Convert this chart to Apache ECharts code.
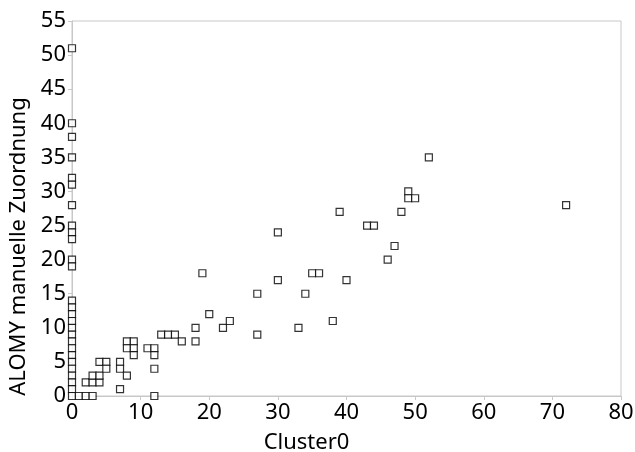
<!DOCTYPE html>
<html>
<head>
    <meta charset="utf-8" />
    <script src="https://cdn.jsdelivr.net/npm/echarts@6/dist/echarts.min.js"></script>
</head>
<body style="margin:0;">
    <div id="main" style="width: 635px;height:452px;"></div>
    <script type="text/javascript">
        // Cluster0 vs. manual assignment
        const clusterX = [
            0, 0, 0, 0, 0, 0, 0, 0, 0, 0, 0, 0,
            0, 0, 0, 0, 0, 0, 0, 0, 0, 0, 0, 0, 0, 0, 0,
            1, 2, 3, 12,
            2, 3, 3, 4, 4, 4, 5, 5, 7, 7, 7, 8,
            8, 9, 8, 9, 9, 11, 12, 12, 12,
            13, 14, 15, 16, 18, 18, 19, 20, 22, 23,
            27, 27, 30, 30, 33, 34, 35, 36, 38, 39, 40,
            43, 44, 46, 47, 48, 49, 49, 50, 52, 72
        ];
        const manualY = [
            51, 40, 38, 35, 32, 31, 28, 25, 24, 23, 20, 19,
            14, 13, 12, 11, 10, 9, 8, 7, 6, 5, 4, 3, 2, 1, 0,
            0, 0, 0, 0,
            2, 2, 3, 2, 3, 5, 5, 4, 5, 4, 1, 3,
            8, 8, 7, 7, 6, 7, 7, 6, 4,
            9, 9, 9, 8, 10, 8, 18, 12, 10, 11,
            15, 9, 24, 17, 10, 15, 18, 18, 11, 27, 17,
            25, 25, 20, 22, 27, 30, 29, 29, 35, 28
        ];
        const xTicks = [0, 10, 20, 30, 40, 50, 60, 70, 80];
        const yTicks = [0, 5, 10, 15, 20, 25, 30, 35, 40, 45, 50, 55];

        const points = clusterX.map((x, i) => [x, manualY[i]]);
        const axisGray = '#c8c8c8';
        const font = 'Noto Sans';

        const myChart = echarts.init(document.getElementById('main'));
        myChart.setOption({
            animation: false,
            backgroundColor: '#fff',
            grid: {
                left: 72, right: 14, top: 21, bottom: 56,
                outerBoundsMode: 'none', containLabel: false,
                show: true, borderColor: axisGray, borderWidth: 1
            },
            xAxis: {
                type: 'value', min: xTicks[0], max: xTicks[xTicks.length - 1], interval: 10,
                name: 'Cluster0', nameLocation: 'middle', nameGap: 36,
                nameTextStyle: { fontFamily: font, fontSize: 22, color: '#000', padding: [0, 80, 0, 0] },
                axisLine: { lineStyle: { color: axisGray } },
                axisTick: { show: true, length: 4, lineStyle: { color: axisGray } },
                axisLabel: { fontFamily: font, fontSize: 22, color: '#000', margin: 6 },
                splitLine: { show: false }
            },
            yAxis: {
                type: 'value', min: yTicks[0], max: yTicks[yTicks.length - 1], interval: 5,
                name: 'ALOMY manuelle Zuordnung', nameLocation: 'middle', nameGap: 42,
                nameTextStyle: { fontFamily: font, fontSize: 22, color: '#000', padding: [0, 76, 0, 0] },
                axisLine: { show: true, lineStyle: { color: axisGray } },
                axisTick: { show: true, length: 4, lineStyle: { color: axisGray } },
                axisLabel: { fontFamily: font, fontSize: 22, color: '#000', margin: 6 },
                splitLine: { show: false }
            },
            series: [{
                type: 'scatter',
                data: points,
                symbol: 'rect',
                symbolSize: 7,
                itemStyle: { color: '#fff', borderColor: '#000', borderWidth: 1.2 }
            }]
        });
    </script>
</body>
</html>
